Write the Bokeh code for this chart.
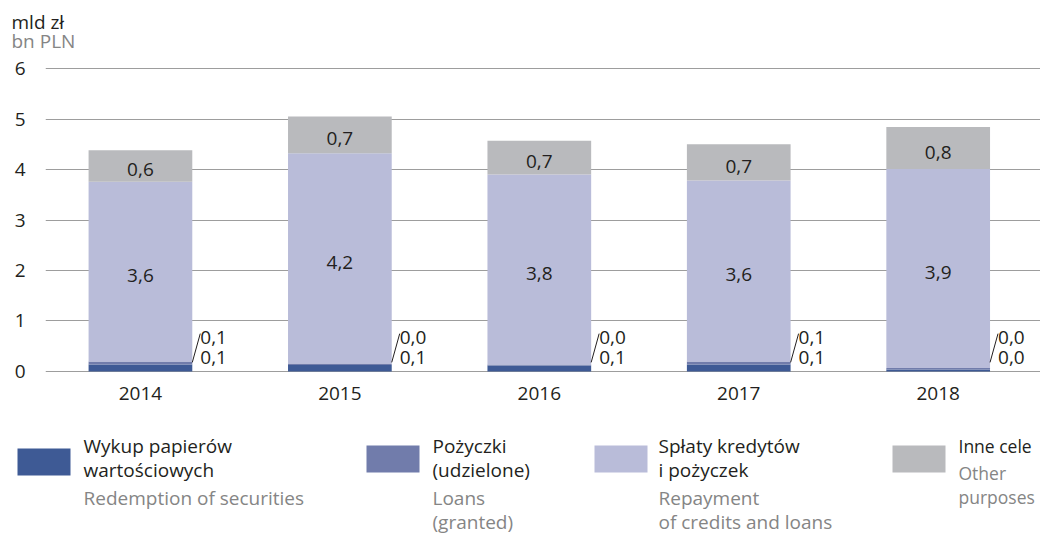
from bokeh.plotting import figure
from bokeh.models import ColumnDataSource, FixedTicker
from bokeh.embed import file_html
from bokeh.resources import INLINE
from bokeh.core.properties import value

# ---- data ----
years = ["2014", "2015", "2016", "2017", "2018"]
securities = [0.14, 0.13, 0.12, 0.14, 0.04]   # Wykup papierów wartościowych
loans = [0.06, 0.03, 0.02, 0.06, 0.03]        # Pożyczki (udzielone)
credits = [3.56, 4.16, 3.76, 3.58, 3.94]      # Spłaty kredytów i pożyczek
other = [0.62, 0.73, 0.67, 0.72, 0.83]        # Inne cele
y_ticks = [0, 1, 2, 3, 4, 5, 6]

series = ["securities", "loans", "credits", "other"]
colors = ["#3e5a95", "#717cab", "#b9bcd9", "#b9babd"]
FONT = "Open Sans"
FS = "19px"
BLACK = "#231f20"
GRAY = "#858585"
W = 1040


def fmt(v):
    return f"{round(v, 1):.1f}".replace(".", ",")


def blank(h):
    f = figure(width=W, height=h, x_range=(0, W), y_range=(h, 0),
               x_axis_type=None, y_axis_type=None,
               output_backend="svg", toolbar_location=None,
               min_border=0, min_border_left=0, min_border_right=0,
               min_border_top=0, min_border_bottom=0)
    f.grid.visible = False
    f.outline_line_color = None
    return f


def label(f, xx, yy, t, c, fs=FS):
    f.text(x=[xx], y=[yy], text=[t], text_align="left", text_baseline="middle",
           text_font=value(FONT), text_font_size=fs, text_color=c)


# ---- header (units) ----
hd = blank(56)
label(hd, 11, 21, "mld zł", BLACK)
label(hd, 11, 40, "bn PLN", GRAY)

# ---- chart ----
x = list(range(len(years)))
src = ColumnDataSource(dict(x=x, securities=securities, loans=loans,
                            credits=credits, other=other))

p = figure(width=W, height=364, x_range=(-0.476, 4.513), y_range=(-0.04, 6.04),
           output_backend="svg", toolbar_location=None,
           min_border_left=45, min_border_right=0, min_border_top=10, min_border_bottom=47)
p.outline_line_color = None

p.vbar_stack(series, x="x", width=0.52, color=colors, line_color=None, source=src)

p.yaxis.ticker = FixedTicker(ticks=y_ticks)
p.xaxis.ticker = FixedTicker(ticks=x)
p.xaxis.major_label_overrides = {i: y for i, y in enumerate(years)}
for ax in (p.xaxis[0], p.yaxis[0]):
    ax.axis_line_color = None
    ax.major_tick_line_color = None
    ax.minor_tick_line_color = None
    ax.major_label_text_font = FONT
    ax.major_label_text_font_size = FS
    ax.major_label_text_color = BLACK
p.yaxis.major_label_standoff = 14
p.xaxis.major_label_standoff = 7
p.xgrid.grid_line_color = None
p.ygrid.ticker = FixedTicker(ticks=y_ticks)
p.ygrid.grid_line_color = "#9d9d9d"
p.ygrid.grid_line_width = 1

# labels inside the bars
mid_c, lab_c, mid_o, lab_o = [], [], [], []
for i in range(len(years)):
    b = securities[i] + loans[i]
    mid_c.append(b + credits[i] / 2)
    lab_c.append(fmt(credits[i]))
    mid_o.append(b + credits[i] + other[i] / 2)
    lab_o.append(fmt(other[i]))
in_src = ColumnDataSource(dict(x=x + x, y=mid_c + mid_o, t=lab_c + lab_o))
p.text(x="x", y="y", text="t", source=in_src, text_align="center",
       text_baseline="middle", y_offset=4, text_font=value(FONT),
       text_font_size=FS, text_color=BLACK)

# small values outside the bars
sx = [i + 0.26 for i in x]
lx = [i + 0.30 for i in x]
p.segment(x0=sx, y0=[0.18] * len(x), x1=lx, y1=[0.75] * len(x),
          line_color=BLACK, line_width=1)
p.text(x=lx, y=[0.67] * len(x), text=[fmt(v) for v in loans], text_align="left",
       text_baseline="middle", text_font=value(FONT),
       text_font_size=FS, text_color=BLACK)
p.text(x=lx, y=[0.27] * len(x), text=[fmt(v) for v in securities], text_align="left",
       text_baseline="middle", text_font=value(FONT),
       text_font_size=FS, text_color=BLACK)

# ---- legend ----
lg = blank(113)
leg_black = [["Wykup papierów", "wartościowych"], ["Pożyczki", "(udzielone)"],
             ["Spłaty kredytów", "i pożyczek"], ["Inne cele"]]
leg_gray = [["Redemption of securities"], ["Loans", "(granted)"],
            ["Repayment", "of credits and loans"], ["Other", "purposes"]]
rx = [17, 366, 594, 892]
ry = [28, 25, 25, 25]
tx = [83, 432, 658, 958]
lg_fs = [FS, FS, FS, "17.5px"]
lg.quad(left=rx, right=[r + 53 for r in rx], top=ry, bottom=[r + 27 for r in ry],
        color=colors, line_color=None)
for k in range(4):
    yy = 25
    for t in leg_black[k]:
        label(lg, tx[k], yy, t, BLACK, lg_fs[k])
        yy += 24
    yy += 4 if len(leg_black[k]) > 1 else 3
    for t in leg_gray[k]:
        label(lg, tx[k], yy, t, GRAY, lg_fs[k])
        yy += 24

open("out.html", "w").write(file_html([hd, p, lg], INLINE))
